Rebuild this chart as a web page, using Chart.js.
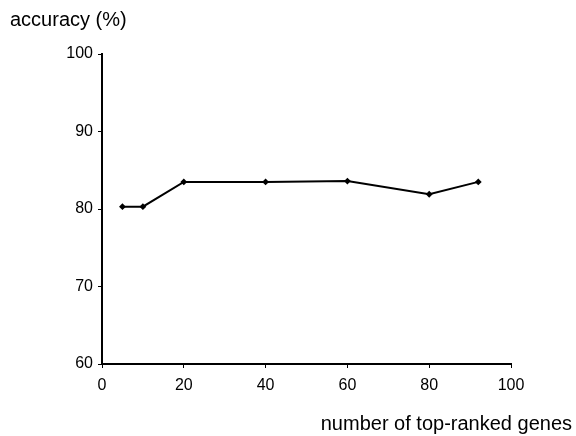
<!DOCTYPE html>
<html>
<head>
<meta charset="utf-8">
<script src="https://cdn.jsdelivr.net/npm/chart.js@4"></script>
<style>
  html, body { margin: 0; padding: 0; background: #fff; }
  #wrap { width: 576px; height: 436px; position: relative; }
</style>
</head>
<body>
<div id="wrap"><canvas id="mainChart" width="576" height="436"></canvas></div>
<script>
// valores
const geneCounts = [5, 10, 20, 40, 60, 80, 92];
const accuracyValues = [80.3, 80.3, 83.5, 83.5, 83.6, 81.9, 83.5];
const xTicks = [0, 20, 40, 60, 80, 100];
const yTicks = [60, 70, 80, 90, 100];
const yTitle = "accuracy (%)";
const xTitle = "number of top-ranked genes";

const FONT = "'Liberation Sans', Arial, sans-serif";

// títulos dos eixos desenhados fora da área do gráfico
const axisTitles = {
    id: 'axisTitles',
    afterDraw(chart) {
        const ctx = chart.ctx;
        ctx.save();
        ctx.fillStyle = '#000';
        ctx.font = `20px ${FONT}`;
        ctx.textBaseline = 'middle';
        ctx.textAlign = 'left';
        ctx.fillText(yTitle, 10, 20);
        ctx.textAlign = 'right';
        ctx.fillText(xTitle, 572, 424);
        ctx.restore();
    }
};

const ctx = document.getElementById('mainChart').getContext('2d');
new Chart(ctx, {
    type: 'line',
    data: {
        datasets: [{
            data: geneCounts.map((g, i) => ({ x: g, y: accuracyValues[i] })),
            borderColor: '#000',
            backgroundColor: '#000',
            borderWidth: 2,
            pointStyle: 'rectRot',
            pointRadius: 2,
            pointHoverRadius: 2,
            tension: 0,
            fill: false
        }]
    },
    options: {
        responsive: false,
        animation: false,
        layout: { padding: { left: 0, top: 54, right: 65, bottom: 0 } },
        scales: {
            x: {
                type: 'linear',
                min: 0,
                max: 100,
                afterBuildTicks: axis => { axis.ticks = xTicks.map(v => ({ value: v })); },
                afterFit: axis => { axis.height = 72; },
                border: { color: '#000', width: 2 },
                grid: { drawOnChartArea: false, color: '#000', tickLength: 4, tickWidth: 1 },
                ticks: { color: '#000', padding: 8, maxRotation: 0, font: { family: FONT, size: 16 } }
            },
            y: {
                type: 'linear',
                min: 60,
                max: 100,
                afterBuildTicks: axis => { axis.ticks = yTicks.map(v => ({ value: v })); },
                afterFit: axis => { axis.width = 102; },
                border: { color: '#000', width: 2 },
                grid: { drawOnChartArea: false, color: '#000', tickLength: 4, tickWidth: 1 },
                ticks: { color: '#000', padding: 5, font: { family: FONT, size: 16 } }
            }
        },
        plugins: {
            legend: { display: false },
            tooltip: { enabled: false }
        }
    },
    plugins: [axisTitles]
});
</script>
</body>
</html>
